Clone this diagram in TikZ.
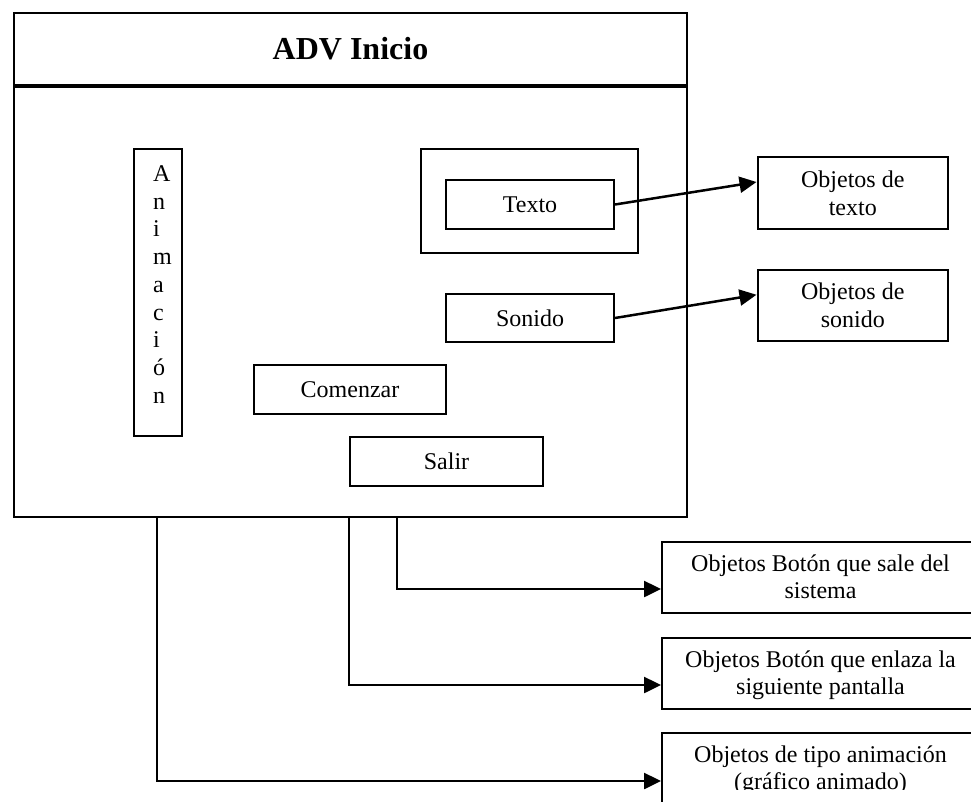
\documentclass[tikz,border=0pt]{standalone}
\usepackage{fontspec}
\setmainfont{Liberation Serif}
\usetikzlibrary{arrows.meta}
\begin{document}
\begin{tikzpicture}[x=1pt,y=-1pt,
  frame/.style={draw, line width=2pt, rectangle, inner sep=0pt, anchor=north west,
                font=\fontsize{24pt}{27.6pt}\selectfont},
  lbl/.style={inner sep=0pt, font=\fontsize{24pt}{27.6pt}\selectfont},
  link/.style={line width=2.5pt, -{Triangle[length=17pt,width=16pt]}},
]
\useasboundingbox (0,0) rectangle (971,801);

% screen header and body
\node[frame, minimum width=673pt, minimum height=72pt,
      font=\fontsize{32pt}{38pt}\selectfont\bfseries] (title) at (13,12) {ADV Inicio};
\node[frame, minimum width=673pt, minimum height=430pt] (body) at (13,86) {};

% vertical animation strip
\node[frame, minimum width=48pt, minimum height=287pt] (anim) at (133,148) {};
\foreach \ch [count=\i] in {A,n,i,m,a,c,i,ó,n}
  \node[lbl, anchor=base west] (let\i) at (153,{181.5+27.7*(\i-1)}) {\ch};

% controls on the screen
\node[frame, minimum width=217pt, minimum height=104pt] (txtarea) at (420,148) {};
\node[frame, minimum width=168pt, minimum height=49pt] (texto) at (445,179) {Texto};
\node[frame, minimum width=168pt, minimum height=48pt] (sonido) at (445,293) {Sonido};
\node[frame, minimum width=192pt, minimum height=49pt] (comenzar) at (253,364) {Comenzar};
\node[frame, minimum width=193pt, minimum height=49pt] (salir) at (349,436) {Salir};

% object descriptions on the right
\node[frame, minimum width=190.5pt, minimum height=72pt] (objT) at (756.5,156) {};
\node[lbl, anchor=base] (objT1) at ([yshift=-31.5pt]objT.north) {Objetos de};
\node[lbl, anchor=base] (objT2) at ([yshift=-59.1pt]objT.north) {texto};
\node[frame, minimum width=190.5pt, minimum height=71.5pt] (objS) at (756.5,268.5) {};
\node[lbl, anchor=base] (objS1) at ([yshift=-31pt]objS.north) {Objetos de};
\node[lbl, anchor=base] (objS2) at ([yshift=-58.6pt]objS.north) {sonido};

\draw[link] (texto.east) -- ([yshift=11pt]objT.west);
\draw[link] (sonido.east) -- ([yshift=10.5pt]objS.west);

% object descriptions below the screen
\node[frame, minimum width=317pt, minimum height=71pt] (ob1) at (661,541) {};
\node[frame, minimum width=317pt, minimum height=71pt] (ob2) at (661,637) {};
\node[frame, minimum width=317pt, minimum height=71pt] (ob3) at (661,732) {};

\node[lbl, anchor=base] (ob1a) at ([yshift=-30pt]ob1.north) {Objetos Botón que sale del};
\node[lbl, anchor=base] (ob1b) at ([yshift=-57.6pt]ob1.north) {sistema};
\begin{scope}
  \clip (662,638) rectangle (977,699);
  \node[lbl, anchor=base] (ob2a) at ([yshift=-30pt]ob2.north) {Objetos Botón que enlaza la};
  \node[lbl, anchor=base] (ob2b) at ([yshift=-57.6pt]ob2.north) {siguiente pantalla};
\end{scope}
\begin{scope}
  \clip (662,733) rectangle (977,789);
  \node[lbl, anchor=base] (ob3a) at ([yshift=-30pt]ob3.north) {Objetos de tipo animación};
  \node[lbl, anchor=base] (ob3b) at ([yshift=-57.6pt]ob3.north) {(gráfico animado)};
\end{scope}

% connectors leaving the bottom of the screen
\coordinate (outSalir) at (397,516);
\coordinate (outComenzar) at (349,516);
\coordinate (outAnim) at (157,516);
\draw[link] (outSalir) |- ([yshift=-11.5pt]ob1.west);
\draw[link] (outComenzar) |- ([yshift=-11.5pt]ob2.west);
\draw[link] (outAnim) |- ([yshift=-12.5pt]ob3.west);
\end{tikzpicture}
\end{document}
